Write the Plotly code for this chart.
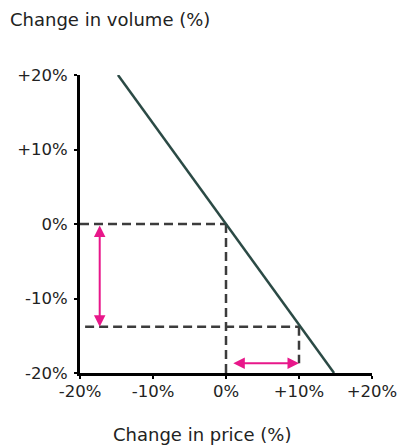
import plotly.graph_objects as go

# Data
tick_vals = [-20, -10, 0, 10, 20]
tick_text = ["-20%", "-10%", "0%", "+10%", "+20%"]
demand_price = [-14.8, 14.8]
demand_volume = [20, -20]
price_start, price_new = 0, 10
volume_start, volume_new = 0, -13.8
arrow_v_x = -17.3
arrow_h_y = -18.7
arrow_h_x0 = 0.8
dash_low_x0 = -19.3

dark = "#3c3c3c"
mag = "#e8178a"
teal = "#2b4a45"

fig = go.Figure()
dash = "9px,5px"
dashed = dict(color=dark, width=2.5, dash=dash)
fig.add_trace(go.Scatter(x=[-20, price_start], y=[volume_start, volume_start], mode="lines",
                         line=dashed, cliponaxis=False))
fig.add_trace(go.Scatter(x=[price_start, price_start], y=[volume_start, -20], mode="lines",
                         line=dashed, cliponaxis=False))
fig.add_trace(go.Scatter(x=[dash_low_x0, price_new], y=[volume_new, volume_new], mode="lines",
                         line=dashed, cliponaxis=False))
fig.add_trace(go.Scatter(x=[price_new, price_new], y=[volume_new, arrow_h_y], mode="lines",
                         line=dashed, cliponaxis=False))
fig.add_trace(go.Scatter(x=demand_price, y=demand_volume, mode="lines",
                         line=dict(color=teal, width=2.5), cliponaxis=False))

arrow_style = dict(xref="x", yref="y", axref="x", ayref="y", text="",
                   showarrow=True, arrowhead=2, startarrowhead=2, arrowside="end+start",
                   arrowsize=1.15, startarrowsize=1.15, arrowwidth=2, arrowcolor=mag,
                   standoff=0, startstandoff=0)
fig.add_annotation(x=arrow_v_x, y=volume_new, ax=arrow_v_x, ay=volume_start, **arrow_style)
fig.add_annotation(x=price_new, y=arrow_h_y, ax=arrow_h_x0, ay=arrow_h_y, **arrow_style)

fig.add_annotation(text="Change in volume (%)", xref="paper", yref="paper",
                   x=-0.245, y=1.185, xanchor="left", yanchor="middle", showarrow=False,
                   font=dict(size=18, color="#222"))
fig.add_annotation(text="Change in price (%)", xref="paper", yref="paper",
                   x=0.418, y=-0.208, xanchor="center", yanchor="middle", showarrow=False,
                   font=dict(size=18, color="#222"))

axis_common = dict(range=[-20, 20], tickvals=tick_vals, ticktext=tick_text,
                   showgrid=False, zeroline=False, showline=True, linecolor="black",
                   linewidth=3, ticks="outside", ticklen=3, tickwidth=2,
                   tickcolor="black", tickfont=dict(size=16.5, color="#222"),
                   automargin=False)

fig.update_layout(
    width=399, height=448,
    margin=dict(l=80, r=27, t=75, b=75),
    paper_bgcolor="white", plot_bgcolor="white",
    showlegend=False,
    hovermode=False,
    font=dict(family="DejaVu Sans, Verdana, sans-serif"),
    xaxis=dict(**axis_common, ticklabelstandoff=-2),
    yaxis=dict(**axis_common, ticklabelstandoff=3),
)
fig.write_html("out.html",
               config={"displayModeBar": False, "staticPlot": True},
               post_script="document.body.style.margin='0px';document.body.style.overflow='hidden';")
